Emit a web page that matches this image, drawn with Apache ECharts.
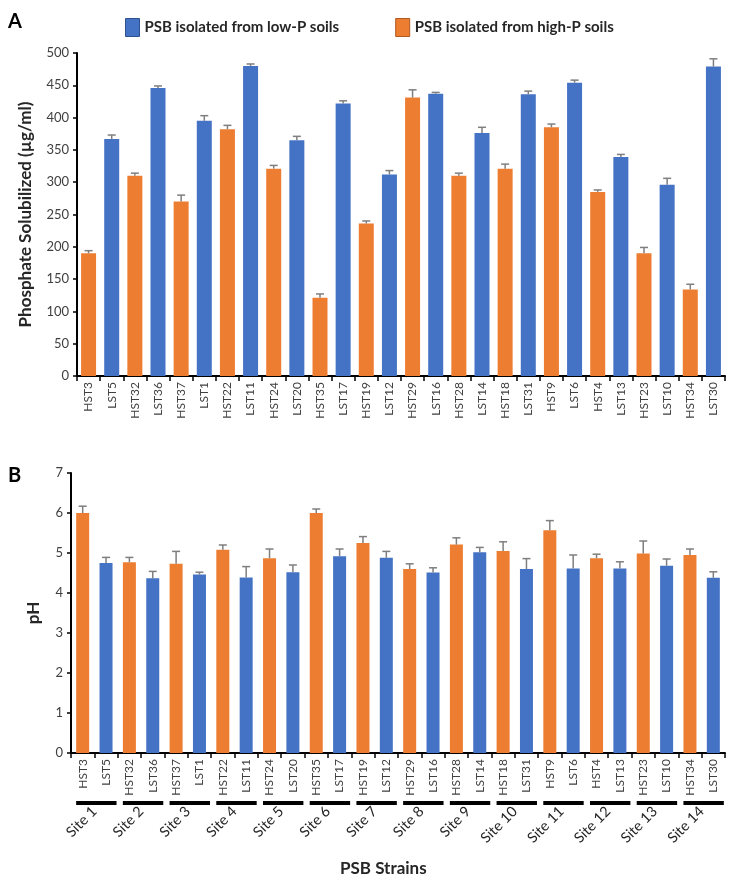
<!DOCTYPE html>
<html>
<head>
<meta charset="utf-8">
<script src="https://cdn.jsdelivr.net/npm/echarts@6/dist/echarts.min.js"></script>
<style>html,body{margin:0;padding:0;background:#fff}#c{width:739px;height:885px}</style>
</head>
<body>
<div id="c"></div>
<script>
const categories = ['HST3','LST5','HST32','LST36','HST37','LST1','HST22','LST11','HST24','LST20','HST35','LST17','HST19','LST12','HST29','LST16','HST28','LST14','HST18','LST31','HST9','LST6','HST4','LST13','HST23','LST10','HST34','LST30'];
const phosphate = [190,367,310,446,270,395,382,480,321,365,121,422,236,312,431,437,310,376,321,436,385,454,285,339,190,296,134,479];
const phosphateErr = [4,6,4,3,10,8,6,3,5,6,6,4,4,6,12,2,4,9,7,5,5,4,3,4,9,10,8,12];
const ph = [6.0,4.75,4.77,4.37,4.73,4.46,5.08,4.39,4.87,4.52,6.0,4.92,5.25,4.88,4.6,4.51,5.21,5.02,5.05,4.6,5.57,4.61,4.87,4.61,4.99,4.68,4.95,4.38];
const phErr = [0.17,0.14,0.12,0.17,0.31,0.06,0.12,0.27,0.23,0.18,0.1,0.18,0.16,0.16,0.13,0.12,0.17,0.12,0.23,0.26,0.24,0.34,0.1,0.17,0.31,0.17,0.15,0.15];
const sites = ['Site 1','Site 2','Site 3','Site 4','Site 5','Site 6','Site 7','Site 8','Site 9','Site 10','Site 11','Site 12','Site 13','Site 14'];
const lowName = 'PSB isolated from low-P soils';
const highName = 'PSB isolated from high-P soils';

const BLUE = '#4472C4', ORANGE = '#ED7D31', ERR = '#7f7f7f';
const isLow = c => c.charAt(0) === 'L';
const pick = (arr, low) => arr.map((v, i) => (isLow(categories[i]) === low ? v : '-'));

function errSeries(xi, vals, errs, hw) {
  return {
    type: 'custom', xAxisIndex: xi, yAxisIndex: xi, z: 5, silent: true,
    data: vals.map((v, i) => [i, v, v + errs[i]]),
    encode: { x: 0, y: [1, 2] },
    renderItem: (params, api) => {
      const x = api.value(0);
      const lo = api.coord([x, api.value(1)]);
      const hi = api.coord([x, api.value(2)]);
      const st = { stroke: ERR, lineWidth: 1.5 };
      return { type: 'group', children: [
        { type: 'line', shape: { x1: lo[0], y1: lo[1], x2: hi[0], y2: hi[1] }, style: st },
        { type: 'line', shape: { x1: hi[0] - hw, y1: hi[1], x2: hi[0] + hw, y2: hi[1] }, style: st }
      ]};
    }
  };
}

const catAxis = (gi) => ({
  gridIndex: gi, type: 'category', data: categories,
  axisLine: { lineStyle: { color: '#000', width: 2 } },
  axisTick: { show: true, length: 5, lineStyle: { color: '#000', width: 1.5 } },
  axisLabel: { rotate: 90, fontSize: 12, color: '#404040', margin: 6, interval: 0 }
});
const valAxis = (gi, max, interval, name, gap) => ({
  gridIndex: gi, type: 'value', min: 0, max: max, interval: interval,
  name: name, nameLocation: 'middle', nameGap: gap,
  nameTextStyle: { fontSize: 17, fontWeight: 'bold', color: '#262626' },
  axisLine: { show: true, lineStyle: { color: '#000', width: 2 } },
  axisTick: { show: true, length: 4, lineStyle: { color: '#000', width: 1.5 } },
  splitLine: { show: false },
  axisLabel: { fontSize: 13, color: '#404040', margin: 8 }
});

const chart = echarts.init(document.getElementById('c'));
chart.setOption({
  animation: false,
  textStyle: { fontFamily: 'Lato' },
  legend: {
    top: 13, left: 120, icon: 'rect', itemWidth: 14, itemHeight: 18, itemGap: 56,
    textStyle: { fontSize: 15, fontWeight: 'bold', color: '#262626' },
    data: [
      { name: lowName, itemStyle: { borderColor: '#2F528F', borderWidth: 1 } },
      { name: highName, itemStyle: { borderColor: '#AE5A21', borderWidth: 1 } }
    ]
  },
  graphic: [
    { type: 'text', left: 8, top: 12, style: { text: 'A', fontSize: 20, fontWeight: 'bold', fill: '#000', fontFamily: 'Lato' } },
    { type: 'text', left: 8, top: 466, style: { text: 'B', fontSize: 20, fontWeight: 'bold', fill: '#000', fontFamily: 'Lato' } },
    { type: 'text', left: 340, top: 860, style: { text: 'PSB Strains', fontSize: 17, fontWeight: 'bold', fill: '#262626', fontFamily: 'Lato' } }
  ],
  grid: [
    { left: 77, top: 53, width: 648, height: 323 },
    { left: 71, top: 473, width: 654, height: 280 }
  ],
  xAxis: [
    catAxis(0), catAxis(1),
    { gridIndex: 1, type: 'category', data: sites, position: 'bottom', offset: 50,
      axisLine: { show: false }, axisTick: { show: false },
      axisLabel: { rotate: 45, fontSize: 14.5, color: '#262626', margin: 6, interval: 0 } }
  ],
  yAxis: [
    valAxis(0, 500, 50, 'Phosphate Solubilized (µg/ml)', 43),
    valAxis(1, 7, 1, 'pH', 29)
  ],
  series: [
    { name: lowName, type: 'bar', xAxisIndex: 0, yAxisIndex: 0, data: pick(phosphate, true), barWidth: 15, barGap: '-100%', itemStyle: { color: BLUE } },
    { name: highName, type: 'bar', xAxisIndex: 0, yAxisIndex: 0, data: pick(phosphate, false), barWidth: 15, barGap: '-100%', itemStyle: { color: ORANGE } },
    { name: lowName, type: 'bar', xAxisIndex: 1, yAxisIndex: 1, data: pick(ph, true), barWidth: 13, barGap: '-100%', itemStyle: { color: BLUE } },
    { name: highName, type: 'bar', xAxisIndex: 1, yAxisIndex: 1, data: pick(ph, false), barWidth: 13, barGap: '-100%', itemStyle: { color: ORANGE } },
    errSeries(0, phosphate, phosphateErr, 4),
    errSeries(1, ph, phErr, 4),
    {
      type: 'custom', xAxisIndex: 1, yAxisIndex: 1, silent: true, clip: false,
      data: sites.map((s, i) => [2 * i, 2 * i + 1]),
      encode: { x: [0, 1] },
      renderItem: (params, api) => {
        const a = api.coord([api.value(0), 0]);
        const b = api.coord([api.value(1), 0]);
        const bw = api.size([1, 0])[0];
        const x0 = a[0] - bw * 0.28, x1 = b[0] + bw * 0.45;
        return { type: 'rect', shape: { x: x0, y: a[1] + 48, width: x1 - x0, height: 4 }, style: { fill: '#000' } };
      }
    }
  ]
});
</script>
</body>
</html>
